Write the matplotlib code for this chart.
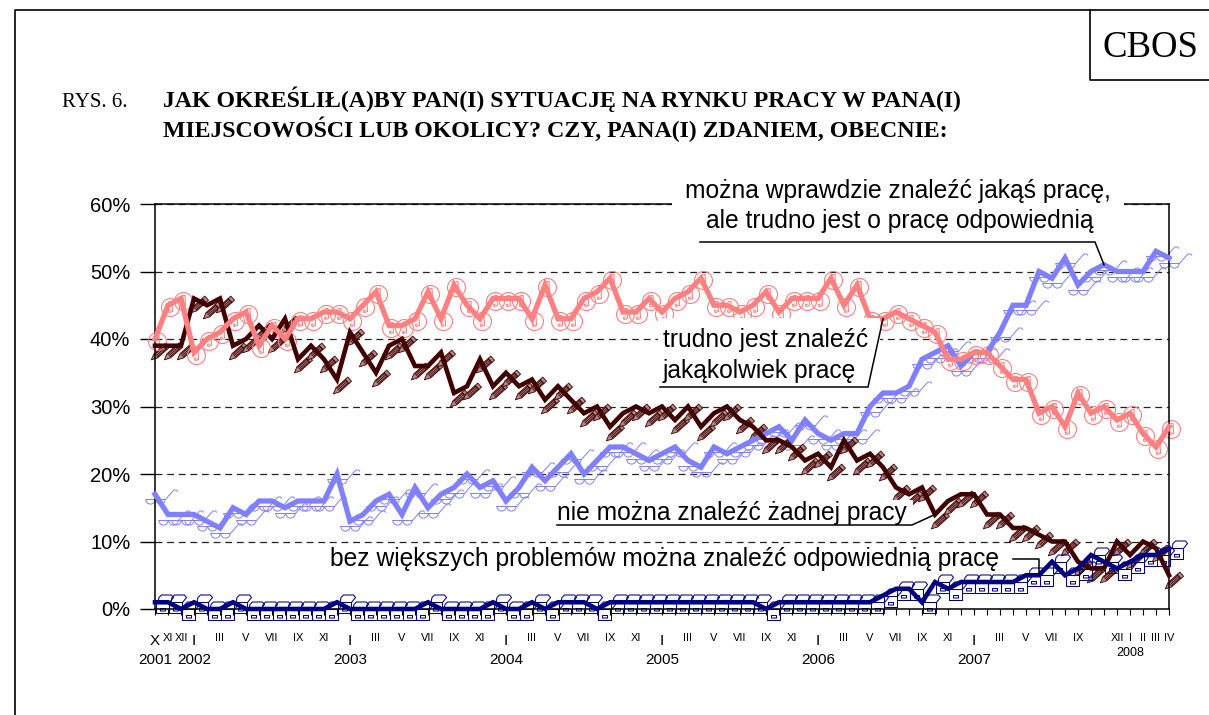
import numpy as np
import matplotlib
matplotlib.use('Agg')
import matplotlib.pyplot as plt
from matplotlib.path import Path
from matplotlib.transforms import Affine2D
from matplotlib.lines import Line2D
from matplotlib.patches import Rectangle

W, H = 1209, 715

# ---------------- data (monthly, X 2001 .. IV 2008) ----------------
month_labels = (['X', 'XI', 'XII'] +
                ['I', '', 'III', '', 'V', '', 'VII', '', 'IX', '', 'XI', ''] * 5 +
                ['I', '', 'III', '', 'V', '', 'VII', '', 'IX', '', '', 'XII'] +
                ['I', 'II', 'III', 'IV'])
year_labels = ['2001', '2002', '2003', '2004', '2005', '2006', '2007', '2008']

# trudno jest znaleźć jakąkolwiek pracę
pink = [40, 45, 46, 38, 40, 41, 43, 44, 39, 42, 40, 43, 43, 44, 44, 43, 45, 47, 42, 42,
        43, 47, 43, 48, 45, 43, 46, 46, 46, 43, 48, 43, 43, 46, 47, 49, 44, 44, 46, 44,
        46, 47, 49, 45, 45, 44, 45, 47, 44, 46, 46, 46, 49, 45, 48, 43, 43, 44, 43, 42,
        41, 37, 37, 38, 38, 36, 34, 34, 29, 30, 27, 32, 29, 30, 28, 29, 26, 24, 27]
# nie można znaleźć żadnej pracy
brown = [39, 39, 39, 46, 45, 46, 39, 40, 42, 40, 43, 37, 39, 37, 34, 41, 38, 35, 39, 40,
         36, 36, 38, 32, 33, 37, 33, 35, 33, 34, 31, 33, 31, 29, 30, 27, 29, 30, 29, 30,
         28, 30, 27, 29, 30, 28, 27, 25, 25, 24, 22, 23, 21, 25, 22, 23, 21, 18, 17, 18,
         14, 16, 17, 17, 14, 14, 12, 12, 11, 10, 10, 7, 6, 6, 10, 8, 10, 9, 5]
# można wprawdzie znaleźć jakąś pracę, ale trudno jest o pracę odpowiednią
blue = [17, 14, 14, 14, 13, 12, 15, 14, 16, 16, 15, 16, 16, 16, 20, 13, 14, 16, 17, 14,
        18, 15, 17, 18, 20, 18, 19, 16, 18, 21, 19, 21, 23, 20, 22, 24, 24, 23, 22, 23,
        24, 22, 21, 24, 23, 24, 25, 26, 27, 25, 28, 26, 25, 26, 26, 30, 32, 32, 33, 37,
        38, 39, 36, 38, 38, 41, 45, 45, 50, 49, 52, 48, 50, 51, 50, 50, 50, 53, 52]
# bez większych problemów można znaleźć odpowiednią pracę
navy = [1, 1, 0, 1, 0, 0, 1, 0, 0, 0, 0, 0, 0, 0, 1, 0, 0, 0, 0, 0,
        0, 1, 0, 0, 0, 0, 1, 0, 0, 1, 0, 1, 1, 1, 0, 1, 1, 1, 1, 1,
        1, 1, 1, 1, 1, 1, 1, 0, 1, 1, 1, 1, 1, 1, 1, 1, 2, 3, 3, 1,
        4, 3, 4, 4, 4, 4, 4, 5, 5, 7, 5, 6, 8, 7, 6, 7, 8, 8, 9]

label_A = ['można wprawdzie znaleźć jakąś pracę,', 'ale trudno jest o pracę odpowiednią']
label_B = ['trudno jest znaleźć', 'jakąkolwiek pracę']
label_C = 'nie można znaleźć żadnej pracy'
label_D = 'bez większych problemów można znaleźć odpowiednią pracę'

C_PINK = '#FF8080'
C_BROWN = '#400000'
C_BLUE = '#8080FF'
C_NAVY = '#000080'
SANS = 'Liberation Sans'
SERIF = 'Liberation Serif'

# ---------------- marker shapes (pixel units, y up, relative to point) -------------
def compound(parts):
    return Path.make_compound_path(*parts)

def poly(pts, closed=False):
    pts = np.asarray(pts, float)
    if closed:
        pts = np.vstack([pts, pts[:1]])
        codes = [Path.MOVETO] + [Path.LINETO] * (len(pts) - 2) + [Path.CLOSEPOLY]
    else:
        codes = [Path.MOVETO] + [Path.LINETO] * (len(pts) - 1)
    return Path(pts, codes)

def arc(cx, cy, r, t1, t2):
    p = Path.arc(t1, t2)
    return Affine2D().scale(r).translate(cx, cy).transform_path(p)

def pencil():
    a = np.deg2rad(42)
    u = np.array([np.cos(a), np.sin(a)])
    n = np.array([-np.sin(a), np.cos(a)])
    C = np.array([4.0, -6.0])
    L, w = 22.0, 5.6
    T = C - u * L / 2
    B = T + u * 6
    E = C + u * L / 2
    parts = [poly([T, B + n * w / 2, E + n * w / 2, E - n * w / 2, B - n * w / 2], closed=True),
             poly([E - u * 3.5 + n * w / 2, E - u * 3.5 - n * w / 2])]
    for f in (-0.3, 0.0, 0.3):
        parts.append(poly([B + n * w * f, E - u * 3.5 + n * w * f]))
    return compound(parts)

def glasses():
    parts = [poly([(-10, -5), (10, -5)]),
             arc(-5, -5, 4.6, 180, 360),
             arc(5, -5, 4.6, 180, 360),
             poly([(10, -5), (16.5, 2.5), (18.5, 4.5), (21, 4.5), (22.5, 3)])]
    return compound(parts)

def printer():
    parts = [poly([(1, -11), (14, -11), (14, 0), (1, 0)], closed=True),
             poly([(5, -8.5), (10, -8.5), (10, -6), (5, -6)], closed=True),
             poly([(2.5, 0), (3.5, 5), (6, 7.5), (16, 7.5), (18, 5), (14, 0)])]
    return compound(parts)

def phone():
    parts = [Affine2D().scale(9).translate(2, -2).transform_path(Path.unit_circle()),
             poly([(0, 3.5), (3.5, 4), (4, -6), (0.5, -7), (0, -5), (2.2, -4.5)])]
    return compound(parts)

def msize(path):
    return 1.44 * np.max(np.abs(path.vertices))

# ---------------- figure ----------------
fig = plt.figure(figsize=(W / 100, H / 100), dpi=100)
PX = Affine2D().scale(1, -1).translate(0, H)   # top-left pixel coordinates

ax_l, ax_r, ax_t, ax_b = 155, 1169, 204, 609
ax = fig.add_axes([ax_l / W, 1 - ax_b / H, (ax_r - ax_l) / W, (ax_b - ax_t) / H])
x = np.arange(len(month_labels))
ax.set_xlim(0, len(month_labels) - 1)
ax.set_ylim(0, 60)

ax.set_yticks(range(0, 61, 10))
ax.set_yticklabels([f'{v}%' for v in range(0, 61, 10)], fontfamily=SANS, fontsize=14.5)
ax.tick_params(axis='y', length=10.8, width=1, pad=7, direction='out')
ax.set_xticks(x)
ax.set_xticklabels([])
ax.tick_params(axis='x', length=4.5, width=0.8, direction='out')
ax.yaxis.grid(True, linestyle=(0, (5.5, 3.8)), color='#222222', lw=0.9)
ax.set_axisbelow(True)
for s in ax.spines.values():
    s.set_color('black')
    s.set_linewidth(1.1)

mk_pencil, mk_glasses, mk_printer, mk_phone = pencil(), glasses(), printer(), phone()
series = [(blue, C_BLUE, mk_glasses, 'none', 3.8, 0.7),
          (brown, C_BROWN, mk_pencil, '#B08888', 3.3, 0.6),
          (pink, C_PINK, mk_phone, 'none', 3.8, 0.8),
          (navy, C_NAVY, mk_printer, 'none', 3.3, 0.75)]
for vals, col, mk, face, lw, mlw in series:
    ax.plot(x, vals, linestyle='none', marker=mk, markersize=msize(mk),
            markerfacecolor=face, markeredgecolor=col, markeredgewidth=mlw,
            clip_on=False, zorder=2)
for vals, col, mk, face, lw, mlw in series:
    ax.plot(x, vals, color=col, lw=lw, solid_joinstyle='miter', clip_on=False, zorder=3)

# x tick labels (roman months, years)
starts = [0] + [i for i, l in enumerate(month_labels) if l == 'I']
def ax_x_px(i):
    return ax.transData.transform((i, 0))[0]
for i, lab in enumerate(month_labels):
    if not lab:
        continue
    big = i in starts[:-1]
    fig.text(ax_x_px(i), 645 if big else 641, lab, transform=PX, ha='center', va='baseline',
             fontfamily=SANS, fontsize=11 if big else 8)
for k, (i, yl) in enumerate(zip(starts, year_labels)):
    last = k == len(starts) - 1
    fig.text(ax_x_px(i), 656.5 if last else 663.5, yl, transform=PX, ha='center', va='baseline',
             fontfamily=SANS, fontsize=9 if last else 11)

# ---------------- titles / frame ----------------
fig.add_artist(Line2D([15, 15, W], [H, 10, 10], transform=PX, color='black', lw=1.2))
fig.add_artist(Line2D([1090, 1090, W], [10, 80, 80], transform=PX, color='black', lw=1.2))
fig.text(1150, 57, 'CBOS', transform=PX, ha='center', va='baseline', fontfamily=SERIF, fontsize=26.5)
fig.text(62, 107, 'RYS. 6.', transform=PX, ha='left', va='baseline', fontfamily=SERIF, fontsize=15)
fig.text(163, 107, 'JAK OKREŚLIŁ(A)BY PAN(I) SYTUACJĘ NA RYNKU PRACY W PANA(I)', transform=PX,
         ha='left', va='baseline', fontfamily=SERIF, fontsize=17.2, fontweight='bold')
fig.text(163, 137, 'MIEJSCOWOŚCI LUB OKOLICY? CZY, PANA(I) ZDANIEM, OBECNIE:', transform=PX,
         ha='left', va='baseline', fontfamily=SERIF, fontsize=17.2, fontweight='bold')

# ---------------- data labels with leaders ----------------
def pt_px(i, v):
    xd, yd = ax.transData.transform((i, v))
    return xd, H - yd

def leader(pts):
    xs, ys = zip(*pts)
    fig.add_artist(Line2D(xs, ys, transform=PX, color='black', lw=1.1, zorder=21))

LFS = 17.7
# label A (blue)
fig.add_artist(Rectangle((672, 168), 452, 73, transform=PX, facecolor='white', edgecolor='none', zorder=19))
fig.text(898, 198, label_A[0], transform=PX, ha='center', va='baseline', fontfamily=SANS, fontsize=LFS, zorder=20)
fig.text(900, 228, label_A[1], transform=PX, ha='center', va='baseline', fontfamily=SANS, fontsize=LFS, zorder=20)
leader([(700, 242), (1095, 242), pt_px(73, blue[73])])
# label B (pink)
fig.add_artist(Rectangle((658, 318), 222, 68, transform=PX, facecolor='white', edgecolor='none', zorder=19))
fig.text(663, 347, label_B[0], transform=PX, ha='left', va='baseline', fontfamily=SANS, fontsize=LFS, zorder=20)
fig.text(663, 378, label_B[1], transform=PX, ha='left', va='baseline', fontfamily=SANS, fontsize=LFS, zorder=20)
leader([(660, 387), (868, 387), pt_px(56, pink[56])])
# label C (brown)
fig.add_artist(Rectangle((555, 500), 358, 25, transform=PX, facecolor='white', edgecolor='none', zorder=19))
fig.text(557, 520, label_C, transform=PX, ha='left', va='baseline', fontfamily=SANS, fontsize=LFS, zorder=20)
leader([(557, 525), (912, 525), pt_px(60, brown[60])])
# label D (navy)
fig.add_artist(Rectangle((328, 546), 690, 27, transform=PX, facecolor='white', edgecolor='none', zorder=19))
fig.text(330, 566, label_D, transform=PX, ha='left', va='baseline', fontfamily=SANS, fontsize=LFS, zorder=20)
nx, ny = pt_px(68, navy[68])
leader([(1013, 559), (nx, 559), (nx, ny)])

fig.savefig('out.png', dpi=100)
